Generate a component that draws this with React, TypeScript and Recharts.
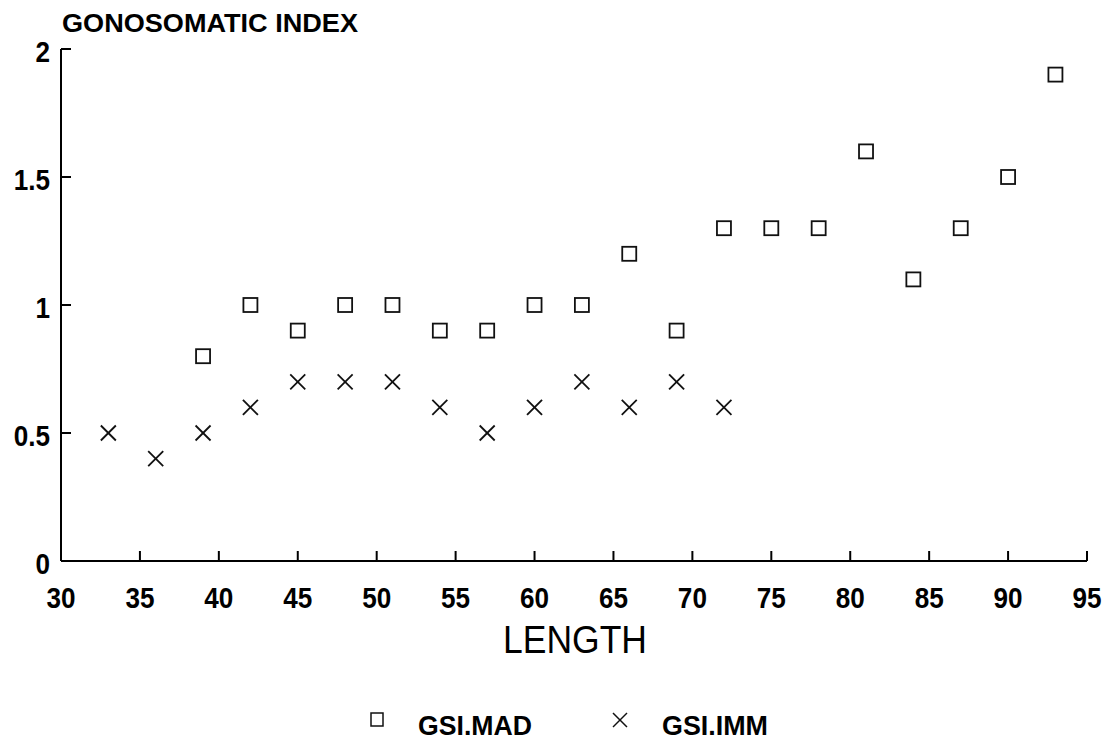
import React from 'react';
import { ScatterChart, Scatter, XAxis, YAxis } from 'recharts';

const madLengths = [39, 42, 45, 48, 51, 54, 57, 60, 63, 66, 69, 72, 75, 78, 81, 84, 87, 90, 93];
const madValues = [0.8, 1.0, 0.9, 1.0, 1.0, 0.9, 0.9, 1.0, 1.0, 1.2, 0.9, 1.3, 1.3, 1.3, 1.6, 1.1, 1.3, 1.5, 1.9];
const immLengths = [33, 36, 39, 42, 45, 48, 51, 54, 57, 60, 63, 66, 69, 72];
const immValues = [0.5, 0.4, 0.5, 0.6, 0.7, 0.7, 0.7, 0.6, 0.5, 0.6, 0.7, 0.6, 0.7, 0.6];
const xTicks = [30, 35, 40, 45, 50, 55, 60, 65, 70, 75, 80, 85, 90, 95];
const yTicks = [0, 0.5, 1, 1.5, 2];

const madData = madLengths.map((x, i) => ({ x, y: madValues[i] }));
const immData = immLengths.map((x, i) => ({ x, y: immValues[i] }));

const FONT = '"Liberation Sans", Arial, sans-serif';

const SquareShape = (props: any) => {
  const { cx, cy } = props;
  if (cx == null || cy == null) return null;
  return <rect x={cx - 7} y={cy - 7} width={14} height={14} fill="#fff" stroke="#111" strokeWidth={1.8} />;
};

const CrossShape = (props: any) => {
  const { cx, cy } = props;
  if (cx == null || cy == null) return null;
  const h = 7.5;
  return (
    <g stroke="#111" strokeWidth={1.8}>
      <line x1={cx - h} y1={cy - h} x2={cx + h} y2={cy + h} />
      <line x1={cx - h} y1={cy + h} x2={cx + h} y2={cy - h} />
    </g>
  );
};

const XTick = (props: any) => {
  const { x, y, payload } = props;
  return (
    <text
      transform={`translate(${x},${y + 21}) scale(0.9,1)`}
      textAnchor="middle"
      fontFamily={FONT}
      fontSize={29}
      fontWeight="bold"
      fill="#000"
    >
      {String(payload.value)}
    </text>
  );
};

const YTick = (props: any) => {
  const { x, y, payload } = props;
  return (
    <text
      transform={`translate(${x},${y + 13}) scale(0.9,1)`}
      textAnchor="end"
      fontFamily={FONT}
      fontSize={29}
      fontWeight="bold"
      fill="#000"
    >
      {String(payload.value)}
    </text>
  );
};

export default function App() {
  return (
    <div style={{ position: 'absolute', left: 0, top: 0, width: 1114, height: 742, background: '#fff' }}>
      <ScatterChart
        width={1114}
        height={742}
        margin={{ top: 49, right: 27, bottom: 141, left: 0 }}
      >
        <XAxis
          type="number"
          dataKey="x"
          domain={[30, 95]}
          ticks={xTicks}
          interval={0}
          height={40}
          tickSize={-10}
          tickMargin={36}
          axisLine={{ stroke: '#000', strokeWidth: 2 }}
          tickLine={{ stroke: '#000', strokeWidth: 2 }}
          tick={<XTick />}
          allowDataOverflow
        />
        <YAxis
          type="number"
          dataKey="y"
          domain={[0, 2]}
          ticks={yTicks}
          interval={0}
          width={61}
          tickSize={-10}
          tickMargin={21}
          axisLine={{ stroke: '#000', strokeWidth: 2 }}
          tickLine={{ stroke: '#000', strokeWidth: 2 }}
          tick={<YTick />}
          allowDataOverflow
        />
        <Scatter name="GSI.MAD" data={madData} shape={SquareShape} isAnimationActive={false} />
        <Scatter name="GSI.IMM" data={immData} shape={CrossShape} isAnimationActive={false} />
      </ScatterChart>
      <svg
        width={1114}
        height={742}
        style={{ position: 'absolute', left: 0, top: 0, pointerEvents: 'none' }}
      >
        <text x={62} y={32} fontFamily={FONT} fontSize={26} fontWeight="bold" textLength={296} lengthAdjust="spacingAndGlyphs" fill="#000">
          GONOSOMATIC INDEX
        </text>
        <text x={503} y={653} fontFamily={FONT} fontSize={39} textLength={144} lengthAdjust="spacingAndGlyphs" fill="#000">
          LENGTH
        </text>
        <rect x={371} y={713} width={12} height={13} fill="#fff" stroke="#111" strokeWidth={1.5} />
        <text x={418} y={735} fontFamily={FONT} fontSize={27} fontWeight="bold" textLength={114} lengthAdjust="spacingAndGlyphs" fill="#000">
          GSI.MAD
        </text>
        <g stroke="#111" strokeWidth={1.5}>
          <line x1={613} y1={713} x2={627} y2={727} />
          <line x1={613} y1={727} x2={627} y2={713} />
        </g>
        <text x={662} y={735} fontFamily={FONT} fontSize={27} fontWeight="bold" textLength={106} lengthAdjust="spacingAndGlyphs" fill="#000">
          GSI.IMM
        </text>
      </svg>
    </div>
  );
}
